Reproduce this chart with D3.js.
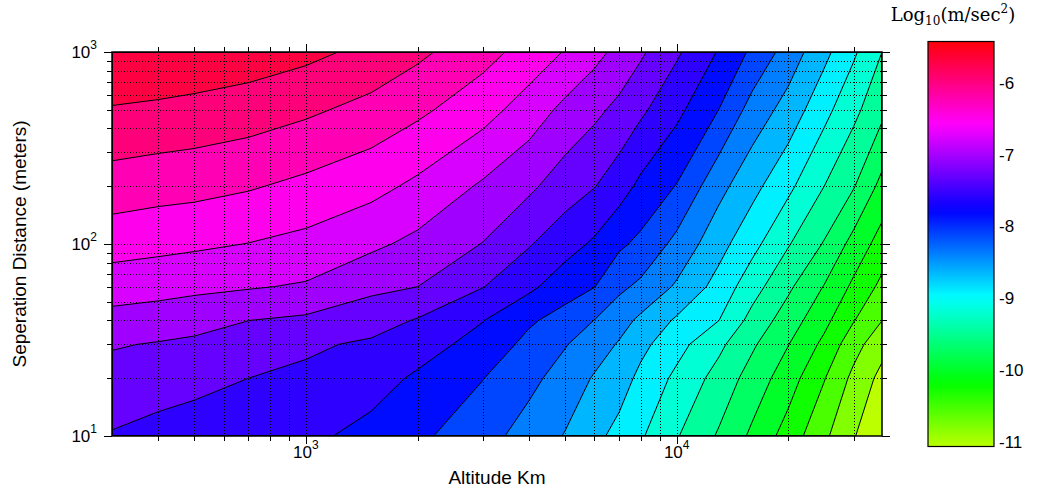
<!DOCTYPE html>
<html>
<head>
<meta charset="utf-8">
<script src="https://cdn.jsdelivr.net/npm/d3@7"></script>
<style>
  body { margin: 0; background: #fff; }
  text { font-family: "Liberation Sans", Arial, sans-serif; fill: #000; }
</style>
</head>
<body>
<div id="chart"></div>
<script>
// Grid nodes: altitude (km) along x, separation (m) along y
var altitudes = [300, 400, 500, 700, 1000, 1500, 2000, 3000, 4000, 5000, 6000, 7000, 8000, 10000, 13000, 16000, 20000, 25000, 30000, 35786];
var separations = [10, 20, 30, 40, 60, 100, 200, 500, 1000];

// log10 of acceleration (m/sec^2), one row per separation
var logAccel = [
  [-7.34, -7.40, -7.45, -7.49, -7.53, -7.67, -7.80, -8.03, -8.23, -8.41, -8.59, -8.75, -8.90, -9.18, -9.50, -9.79, -10.12, -10.49, -10.79, -11.08],
  [-7.15, -7.21, -7.24, -7.32, -7.37, -7.48, -7.63, -7.85, -8.06, -8.23, -8.42, -8.54, -8.73, -8.99, -9.30, -9.58, -9.88, -10.26, -10.61, -10.89],
  [-7.03, -7.07, -7.10, -7.16, -7.28, -7.36, -7.47, -7.69, -7.93, -8.11, -8.26, -8.42, -8.59, -8.84, -9.14, -9.43, -9.73, -10.07, -10.44, -10.72],
  [-6.87, -6.91, -6.96, -7.05, -7.10, -7.21, -7.34, -7.58, -7.82, -7.96, -8.13, -8.29, -8.45, -8.70, -8.93, -9.29, -9.60, -9.93, -10.26, -10.54],
  [-6.66, -6.69, -6.72, -6.76, -6.81, -6.99, -7.05, -7.31, -7.53, -7.74, -7.85, -8.07, -8.18, -8.43, -8.76, -9.09, -9.42, -9.75, -10.06, -10.34],
  [-6.40, -6.44, -6.47, -6.52, -6.59, -6.73, -6.85, -7.06, -7.30, -7.48, -7.63, -7.81, -7.92, -8.20, -8.57, -8.85, -9.18, -9.49, -9.83, -10.12],
  [-6.10, -6.14, -6.16, -6.22, -6.31, -6.43, -6.57, -6.82, -7.00, -7.19, -7.31, -7.47, -7.65, -7.87, -8.31, -8.58, -8.87, -9.20, -9.45, -9.82],
  [-5.73, -5.76, -5.79, -5.84, -5.93, -6.06, -6.19, -6.41, -6.64, -6.85, -6.99, -7.12, -7.27, -7.52, -7.86, -8.23, -8.50, -8.85, -9.13, -9.40],
  [-5.44, -5.47, -5.50, -5.56, -5.64, -5.78, -5.92, -6.15, -6.35, -6.53, -6.70, -6.86, -7.01, -7.28, -7.61, -7.91, -8.24, -8.59, -8.89, -9.20]
];

// Axis ticks
var xMajor = [1000, 10000];
var xMinor = [400, 500, 600, 700, 800, 900, 2000, 3000, 4000, 5000, 6000, 7000, 8000, 9000, 20000, 30000];
var yMajor = [10, 100, 1000];
var yMinor = [20, 30, 40, 50, 60, 70, 80, 90, 200, 300, 400, 500, 600, 700, 800, 900];
var cbTicks = [-6, -7, -8, -9, -10, -11];

// Colour range and contour levels
var zMin = -11.08, zMax = -5.44, nLevels = 20;

var width = 1037, height = 490;
var plot = { left: 112, right: 882, top: 52, bottom: 436 };
var cb = { left: 928, right: 994, top: 41.5, bottom: 446.5 };

var xScale = d3.scaleLog().domain([300, 35786]).range([plot.left, plot.right]);
var yScale = d3.scaleLog().domain([10, 1000]).range([plot.bottom, plot.top]);
var hue = d3.scaleLinear().domain([zMin, zMax]).range([76, 358]);
function color(z) { return d3.hsl(hue(z), 1, 0.5).formatHex(); }

var step = (zMax - zMin) / (nLevels + 1);
var levels = d3.range(1, nLevels + 1).map(function(i) { return zMin + i * step; });

var svg = d3.select('#chart').append('svg')
    .attr('width', width).attr('height', height);

svg.append('clipPath').attr('id', 'clip')
  .append('rect')
    .attr('x', plot.left).attr('y', plot.top)
    .attr('width', plot.right - plot.left).attr('height', plot.bottom - plot.top);

// Filled contours
var nx = altitudes.length, ny = separations.length;
var values = [];
logAccel.forEach(function(row) { row.forEach(function(v) { values.push(v); }); });
var contours = d3.contours().size([nx, ny]).thresholds(levels)(values);

var xNodes = altitudes.map(xScale), yNodes = separations.map(yScale);
function nodePos(nodes, c) {
  var f = Math.max(0, Math.min(nodes.length - 1, c - 0.5));
  var i = Math.min(Math.floor(f), nodes.length - 2);
  return nodes[i] + (f - i) * (nodes[i + 1] - nodes[i]);
}
function toPath(geom) {
  var s = '';
  geom.coordinates.forEach(function(poly) {
    poly.forEach(function(ring) {
      ring.forEach(function(p, i) {
        s += (i ? 'L' : 'M') + nodePos(xNodes, p[0]).toFixed(2) + ',' + nodePos(yNodes, p[1]).toFixed(2);
      });
      s += 'Z';
    });
  });
  return s;
}

var g = svg.append('g').attr('clip-path', 'url(#clip)');
g.append('rect')
    .attr('x', plot.left).attr('y', plot.top)
    .attr('width', plot.right - plot.left).attr('height', plot.bottom - plot.top)
    .attr('fill', color(zMin));
g.selectAll('path.band').data(contours).enter().append('path')
    .attr('class', 'band')
    .attr('d', function(d) { return toPath(d); })
    .attr('fill', function(d) { return color(d.value); })
    .attr('fill-rule', 'evenodd');
g.selectAll('path.iso').data(contours).enter().append('path')
    .attr('class', 'iso')
    .attr('d', function(d) { return toPath(d); })
    .attr('fill', 'none')
    .attr('stroke', '#000')
    .attr('stroke-width', 1);

// Dotted grid
var grid = svg.append('g').attr('stroke', '#000').attr('stroke-width', 1)
    .attr('stroke-dasharray', '1,2');
xMajor.concat(xMinor).forEach(function(v) {
  grid.append('line').attr('x1', Math.round(xScale(v)) + 0.5).attr('x2', Math.round(xScale(v)) + 0.5)
      .attr('y1', plot.top).attr('y2', plot.bottom);
});
[100].concat(yMinor).forEach(function(v) {
  grid.append('line').attr('y1', Math.round(yScale(v)) + 0.5).attr('y2', Math.round(yScale(v)) + 0.5)
      .attr('x1', plot.left).attr('x2', plot.right);
});

// Frame and ticks
var axes = svg.append('g').attr('stroke', '#000').attr('stroke-width', 1);
axes.append('rect')
    .attr('x', plot.left).attr('y', plot.top)
    .attr('width', plot.right - plot.left).attr('height', plot.bottom - plot.top)
    .attr('fill', 'none').attr('stroke-width', 1.5);
function xTick(v, len) {
  var x = Math.round(xScale(v)) + 0.5;
  axes.append('line').attr('x1', x).attr('x2', x).attr('y1', plot.bottom).attr('y2', plot.bottom + len);
  axes.append('line').attr('x1', x).attr('x2', x).attr('y1', plot.top).attr('y2', plot.top - len);
}
function yTick(v, len) {
  var y = Math.round(yScale(v)) + 0.5;
  axes.append('line').attr('y1', y).attr('y2', y).attr('x1', plot.left).attr('x2', plot.left - len);
  axes.append('line').attr('y1', y).attr('y2', y).attr('x1', plot.right).attr('x2', plot.right + len);
}
xMajor.forEach(function(v) { xTick(v, 8); });
xMinor.forEach(function(v) { xTick(v, 5); });
yMajor.forEach(function(v) { yTick(v, 8); });
yMinor.forEach(function(v) { yTick(v, 5); });

function powLabel(sel, exp) {
  sel.append('tspan').text('10');
  sel.append('tspan').attr('dy', -9).attr('font-size', 12).text(exp);
}
xMajor.forEach(function(v) {
  var t = svg.append('text').attr('x', xScale(v)).attr('y', 458)
      .attr('text-anchor', 'middle').attr('font-size', 17);
  powLabel(t, Math.round(Math.log10(v)));
});
yMajor.forEach(function(v) {
  var t = svg.append('text').attr('x', 97).attr('y', yScale(v) + 6)
      .attr('text-anchor', 'end').attr('font-size', 17);
  powLabel(t, Math.round(Math.log10(v)));
});

svg.append('text').attr('x', (plot.left + plot.right) / 2).attr('y', 484)
    .attr('text-anchor', 'middle').attr('font-size', 19).text('Altitude Km');
svg.append('text')
    .attr('transform', 'translate(26,' + ((plot.top + plot.bottom) / 2) + ') rotate(-90)')
    .attr('text-anchor', 'middle').attr('font-size', 19).text('Seperation Distance (meters)');

// Colour bar
var cScale = d3.scaleLinear().domain([zMin, zMax]).range([cb.bottom, cb.top]);
var grad = svg.append('defs').append('linearGradient').attr('id', 'cbgrad')
    .attr('x1', 0).attr('y1', 1).attr('x2', 0).attr('y2', 0);
d3.range(0, 41).forEach(function(i) {
  var z = zMin + (zMax - zMin) * i / 40;
  grad.append('stop').attr('offset', (i / 40 * 100) + '%').attr('stop-color', color(z));
});
svg.append('rect')
    .attr('x', cb.left).attr('y', cb.top)
    .attr('width', cb.right - cb.left).attr('height', cb.bottom - cb.top)
    .attr('fill', 'url(#cbgrad)').attr('stroke', '#000').attr('stroke-width', 1.2);
cbTicks.forEach(function(v) {
  var y = Math.round(cScale(v)) + 0.5;
  axes.append('line').attr('x1', cb.left).attr('x2', cb.left + 4).attr('y1', y).attr('y2', y);
  axes.append('line').attr('x1', cb.right).attr('x2', cb.right - 4).attr('y1', y).attr('y2', y);
  svg.append('text').attr('x', cb.right + 5).attr('y', y + 6)
      .attr('font-size', 17).text(v);
});

var title = svg.append('text').attr('x', 953).attr('y', 21)
    .attr('text-anchor', 'middle').attr('font-size', 18)
    .style('font-family', '"DejaVu Serif", serif');
title.append('tspan').text('Log');
title.append('tspan').attr('dy', 4).attr('font-size', 12).text('10');
title.append('tspan').attr('dy', -4).text('(m/sec');
title.append('tspan').attr('dy', -8).attr('font-size', 12).text('2');
title.append('tspan').attr('dy', 8).text(')');
</script>
</body>
</html>
